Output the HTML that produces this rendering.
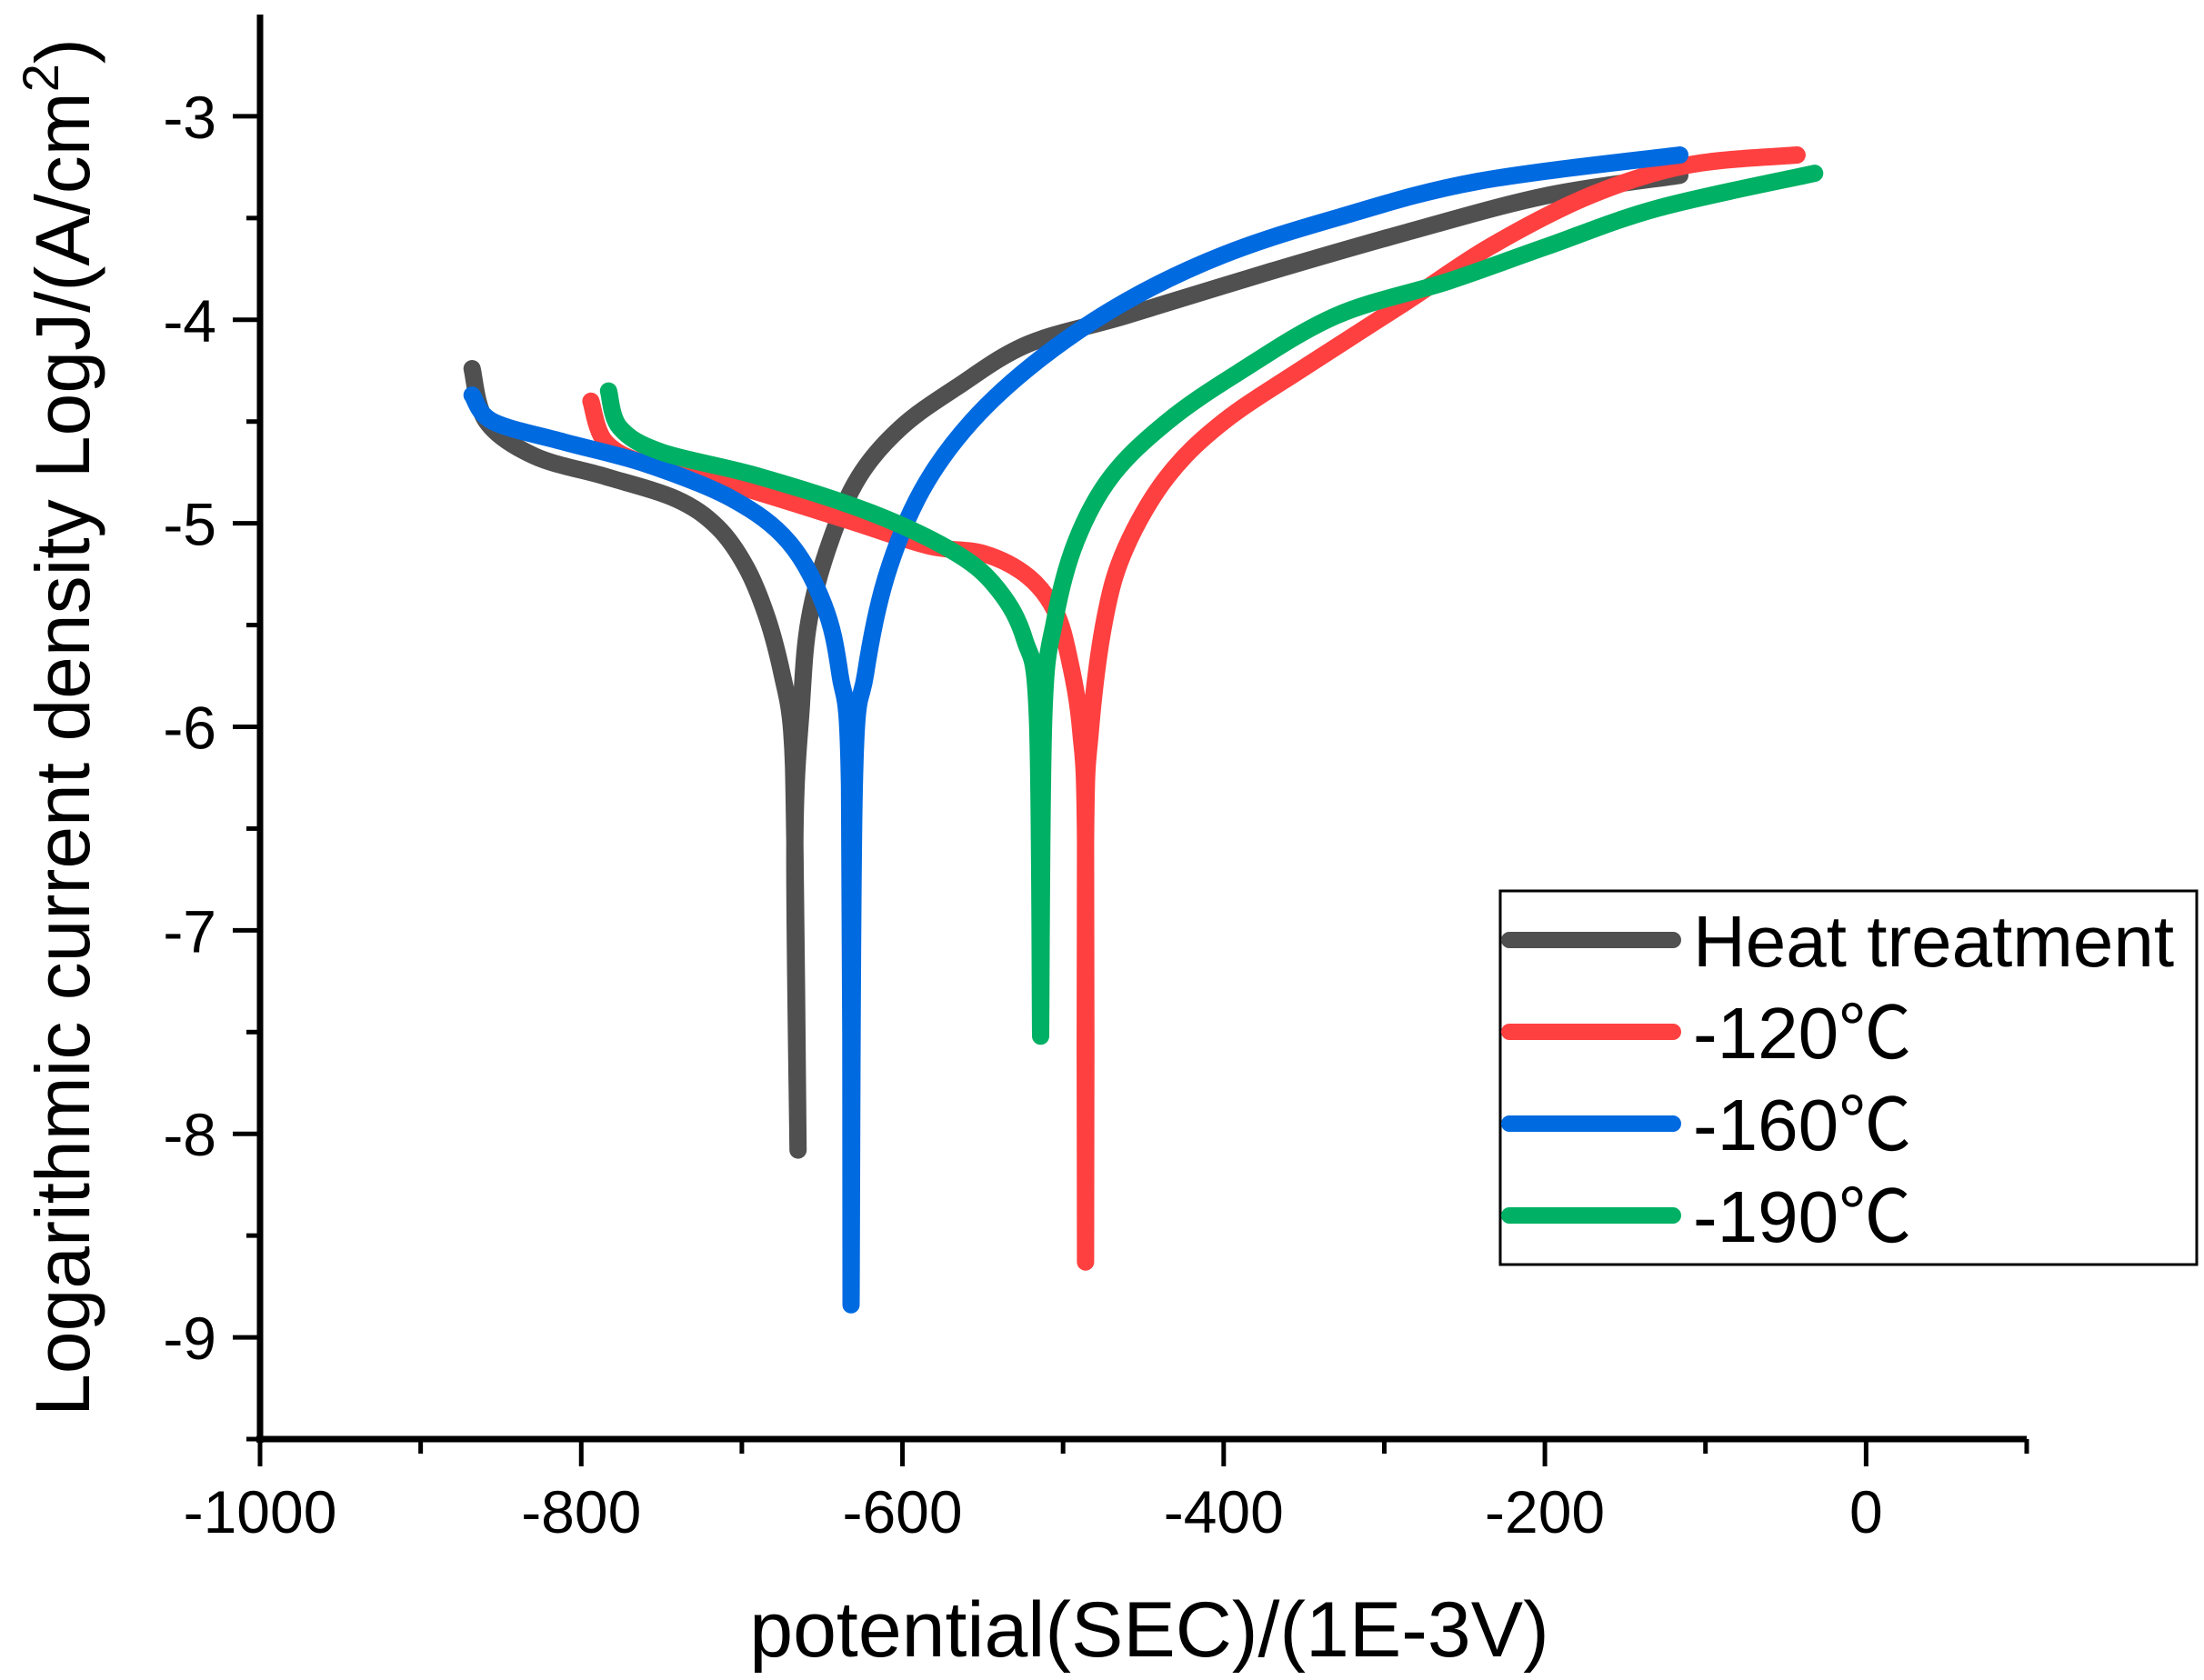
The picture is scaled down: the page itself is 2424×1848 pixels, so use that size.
<!DOCTYPE html>
<html><head><meta charset="utf-8"><style>
html,body{margin:0;padding:0;background:#fff;}
svg{display:block;font-family:"Liberation Sans","Noto Sans CJK SC",sans-serif;}
</style></head><body>
<svg id="chart" width="2424" height="1848" viewBox="0 0 2424 1848" xmlns="http://www.w3.org/2000/svg">
<g id="axes"></g>
<g id="series"></g>
<g id="legend"></g>
<text x="1264" y="1822" font-size="86" text-anchor="middle">potential(SEC)/(1E-3V)</text>
<text transform="translate(98,800) rotate(-90)" font-size="84" text-anchor="middle">Logarithmic current density LogJ/(A/cm<tspan dy="-34" font-size="56">2</tspan><tspan dy="34">)</tspan></text>
</svg>
<script>
const xTicks=[-1000,-800,-600,-400,-200,0];
const yTicks=[-9,-8,-7,-6,-5,-4,-3];
const seriesNames=["Heat treatment","-120℃","-160℃","-190℃"];
const heatX=[-868,-859,-829,-785,-741,-715,-697,-684,-675,-669,-667,-665,-667,-663,-658,-645,-627,-601,-566,-522,-461,-374,-286,-199,-116];
const heatY=[-4.24,-4.50,-4.67,-4.77,-4.88,-5.02,-5.22,-5.47,-5.74,-6.02,-6.57,-8.08,-6.57,-5.9,-5.47,-5.09,-4.77,-4.53,-4.33,-4.12,-3.98,-3.77,-3.57,-3.39,-3.29];
const redX=[-794,-785,-759,-706,-636,-584,-549,-522,-505,-496,-489,-486,-486,-486,-483,-474,-461,-435,-400,-347,-286,-234,-172,-111,-43];
const redY=[-4.40,-4.60,-4.71,-4.81,-4.98,-5.11,-5.15,-5.26,-5.43,-5.67,-6.02,-6.57,-8.63,-6.57,-6.02,-5.47,-5.12,-4.77,-4.50,-4.22,-3.91,-3.64,-3.39,-3.24,-3.19];
const blueX=[-868,-855,-811,-759,-706,-671,-649,-639,-633,-632,-630,-623,-610,-588,-557,-514,-461,-400,-330,-242,-116];
const blueY=[-4.37,-4.50,-4.60,-4.71,-4.88,-5.09,-5.40,-5.74,-6.29,-8.84,-6.29,-5.74,-5.26,-4.84,-4.50,-4.19,-3.91,-3.68,-3.50,-3.32,-3.19];
const greenX=[-783,-776,-750,-689,-619,-566,-540,-524,-516,-514,-512,-505,-492,-470,-435,-391,-330,-260,-199,-129,-32];
const greenY=[-4.35,-4.53,-4.65,-4.77,-4.95,-5.15,-5.33,-5.57,-5.95,-7.52,-5.95,-5.47,-5.09,-4.77,-4.50,-4.26,-3.98,-3.81,-3.64,-3.45,-3.28];
const colors=["#505050","#ff4040","#006ae0","#00b064"];

const NS="http://www.w3.org/2000/svg";
const X0=286,X1=2229,XMIN=-1000,XMAX=100;
const Y0=16,Y1=1583,YMIN=-9.5,YMAX=-2.5;
function sx(v){return X0+(v-XMIN)/(XMAX-XMIN)*(X1-X0);}
function sy(v){return Y1-(v-YMIN)/(YMAX-YMIN)*(Y1-Y0);}
function mk(tag,attrs,parent){const e=document.createElementNS(NS,tag);for(const k in attrs)e.setAttribute(k,attrs[k]);parent.appendChild(e);return e;}
function smooth(P){
  let d='M'+P[0][0].toFixed(1)+','+P[0][1].toFixed(1);
  for(let i=0;i<P.length-1;i++){
    const p0=P[i-1]||P[i],p1=P[i],p2=P[i+1],p3=P[i+2]||P[i+1];
    const c1=[p1[0]+(p2[0]-p0[0])/6,p1[1]+(p2[1]-p0[1])/6];
    const c2=[p2[0]-(p3[0]-p1[0])/6,p2[1]-(p3[1]-p1[1])/6];
    d+=' C'+c1[0].toFixed(1)+','+c1[1].toFixed(1)+' '+c2[0].toFixed(1)+','+c2[1].toFixed(1)+' '+p2[0].toFixed(1)+','+p2[1].toFixed(1);
  }
  return d;
}
const axes=document.getElementById('axes');
let e;
e=mk('line',{x1:X0,y1:Y0,x2:X0,y2:Y1+4,stroke:'#000','stroke-width':7},axes);


e=mk('line',{x1:X0-4,y1:Y1,x2:X1,y2:Y1,stroke:'#000','stroke-width':7},axes);


for(let v=-1000;v<=100;v+=100){
  const major=xTicks.includes(v);
  e=mk('line',{x1:sx(v),y1:Y1,x2:sx(v),y2:Y1+(major?30:16),stroke:'#000','stroke-width':5},axes);
  
  
}
xTicks.forEach(v=>{
  e=mk('text',{x:sx(v),y:1686,'font-size':66,'text-anchor':'middle'},axes);
  e.textContent=String(v);
  
  
});
for(let v=-9.5;v<=-2.5001;v+=0.5){
  const major=Math.abs(v-Math.round(v))<1e-6;
  e=mk('line',{x1:X0-(major?30:15),y1:sy(v),x2:X0,y2:sy(v),stroke:'#000','stroke-width':5},axes);
  
  
}
yTicks.forEach(v=>{
  e=mk('text',{x:238,y:sy(v)+24,'font-size':66,'text-anchor':'end'},axes);
  e.textContent=String(v);
  
  
});
const ser=document.getElementById('series');
const data=[[heatX,heatY],[redX,redY],[blueX,blueY],[greenX,greenY]];
const sNames=['series-heat-treatment','series-minus-120','series-minus-160','series-minus-190'];
data.forEach((d,i)=>{
  const P=d[0].map((x,j)=>[sx(x),sy(d[1][j])]);
  let k=0;d[1].forEach((v,j)=>{if(v<d[1][k])k=j;});
  const path=smooth(P.slice(0,k+1))+' '+smooth(P.slice(k));
  e=mk('path',{d:path,fill:'none',stroke:colors[i],'stroke-width':19,'stroke-linejoin':'round','stroke-linecap':'round'},ser);
  
  
});
const leg=document.getElementById('legend');
e=mk('rect',{x:1650,y:980,width:766,height:411,fill:'#fff',stroke:'#000','stroke-width':3},leg);


const ly=[1034,1135,1236,1337];
seriesNames.forEach((n,i)=>{
  e=mk('line',{x1:1660,y1:ly[i],x2:1840,y2:ly[i],stroke:colors[i],'stroke-width':18,'stroke-linecap':'round'},leg);
  
  
  e=mk('text',{x:1862,y:ly[i]+29,'font-size':80},leg);
  e.textContent=n;
  
  
});
</script>
</body></html>
